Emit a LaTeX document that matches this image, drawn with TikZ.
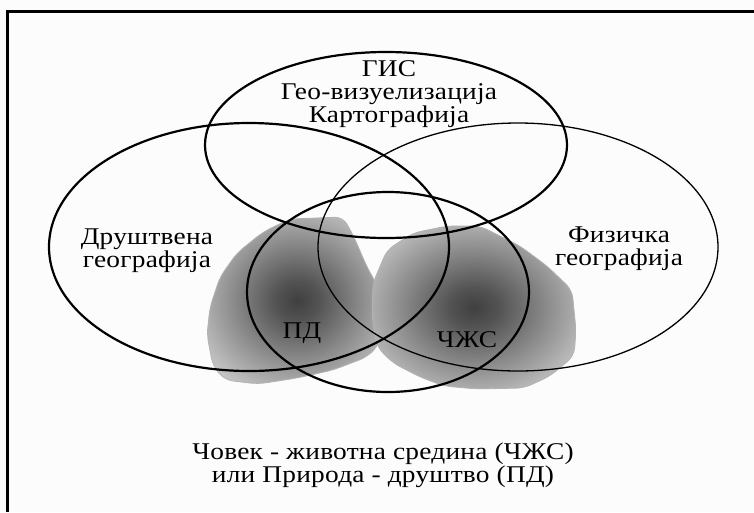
\documentclass[tikz,border=0pt]{standalone}
\usepackage{fontspec}
\setmainfont{Liberation Serif}[FakeStretch=1.14, LetterSpace=1]
\usepackage{tikz}
\usetikzlibrary{calc}
\usetikzlibrary{positioning}

\definecolor{paper}{gray}{0.99}
\definecolor{blobdark}{gray}{0.25}
\definecolor{blobmid}{gray}{0.55}
\definecolor{bloblight}{gray}{0.84}
\pgfdeclareradialshading{blobshade}{\pgfpointorigin}{color(0bp)=(blobdark); color(6bp)=(blobdark!75!blobmid); color(18bp)=(blobmid); color(30bp)=(bloblight!75!blobmid); color(38bp)=(bloblight); color(50bp)=(bloblight)}

\tikzset{
  field/.style={line width=2.2pt},
  thinfield/.style={line width=1.3pt},
  blob/.style={shading=blobshade, draw=gray!60, line width=0.8pt, rounded corners=8pt},
  label/.style={inner sep=0pt, align=center, font=\fontsize{24}{23}\selectfont}
}

\begin{document}
\begin{tikzpicture}[x=1pt, y=-1pt]
			\useasboundingbox (0, 0) rectangle (754, 512);
			\fill[paper] (0, 0) rectangle (754, 512);
			\draw[line width=3pt] (7.5, 512) -- (7.5, 11) -- (754, 11);
			\shadedraw[blob] (290, 219) -- (343, 217) -- (354, 237) -- (367, 267) -- (381, 292) -- (387, 312) -- (385, 331) -- (377, 347) -- (367, 357) -- (333, 370) -- (297, 378) -- (258, 384) -- (225, 380) -- (213, 366) -- (207, 335) -- (210, 307) -- (220, 277) -- (237, 253) -- (263, 232) -- cycle;
			\shadedraw[blob] (387, 250) -- (413, 233) -- (447, 226) -- (480, 226) -- (520, 246) -- (547, 266) -- (572, 290) -- (576, 330) -- (574, 356) -- (550, 376) -- (524, 388) -- (477, 389) -- (444, 386) -- (420, 377) -- (393, 363) -- (377, 347) -- (372, 317) -- (373, 283) -- cycle;
			\draw[field] (386, 145) ellipse [x radius=181, y radius=93];
			\draw[field] (249, 247) ellipse [x radius=200, y radius=124];
			\draw[thinfield] (518, 247) ellipse [x radius=200, y radius=124];
			\draw[field] (388, 292) ellipse [x radius=141, y radius=100];
			\node[label] (gis) at (389, 94) {ГИС\\Гео-визуелизација\\Картографија};
			\node[label] (social) at (147, 251) {Друштвена\\географија};
			\node[label] (physical) at (619, 249) {Физичка\\географија};
			\node[label] (pd) at (302, 333) {ПД};
			\node[label] (czs) at (467, 340) {ЧЖС};
			\node[label] (legend) at (383, 465) {Човек - животна средина (ЧЖС)\\или Природа - друштво (ПД)};
		\end{tikzpicture}
\end{document}
